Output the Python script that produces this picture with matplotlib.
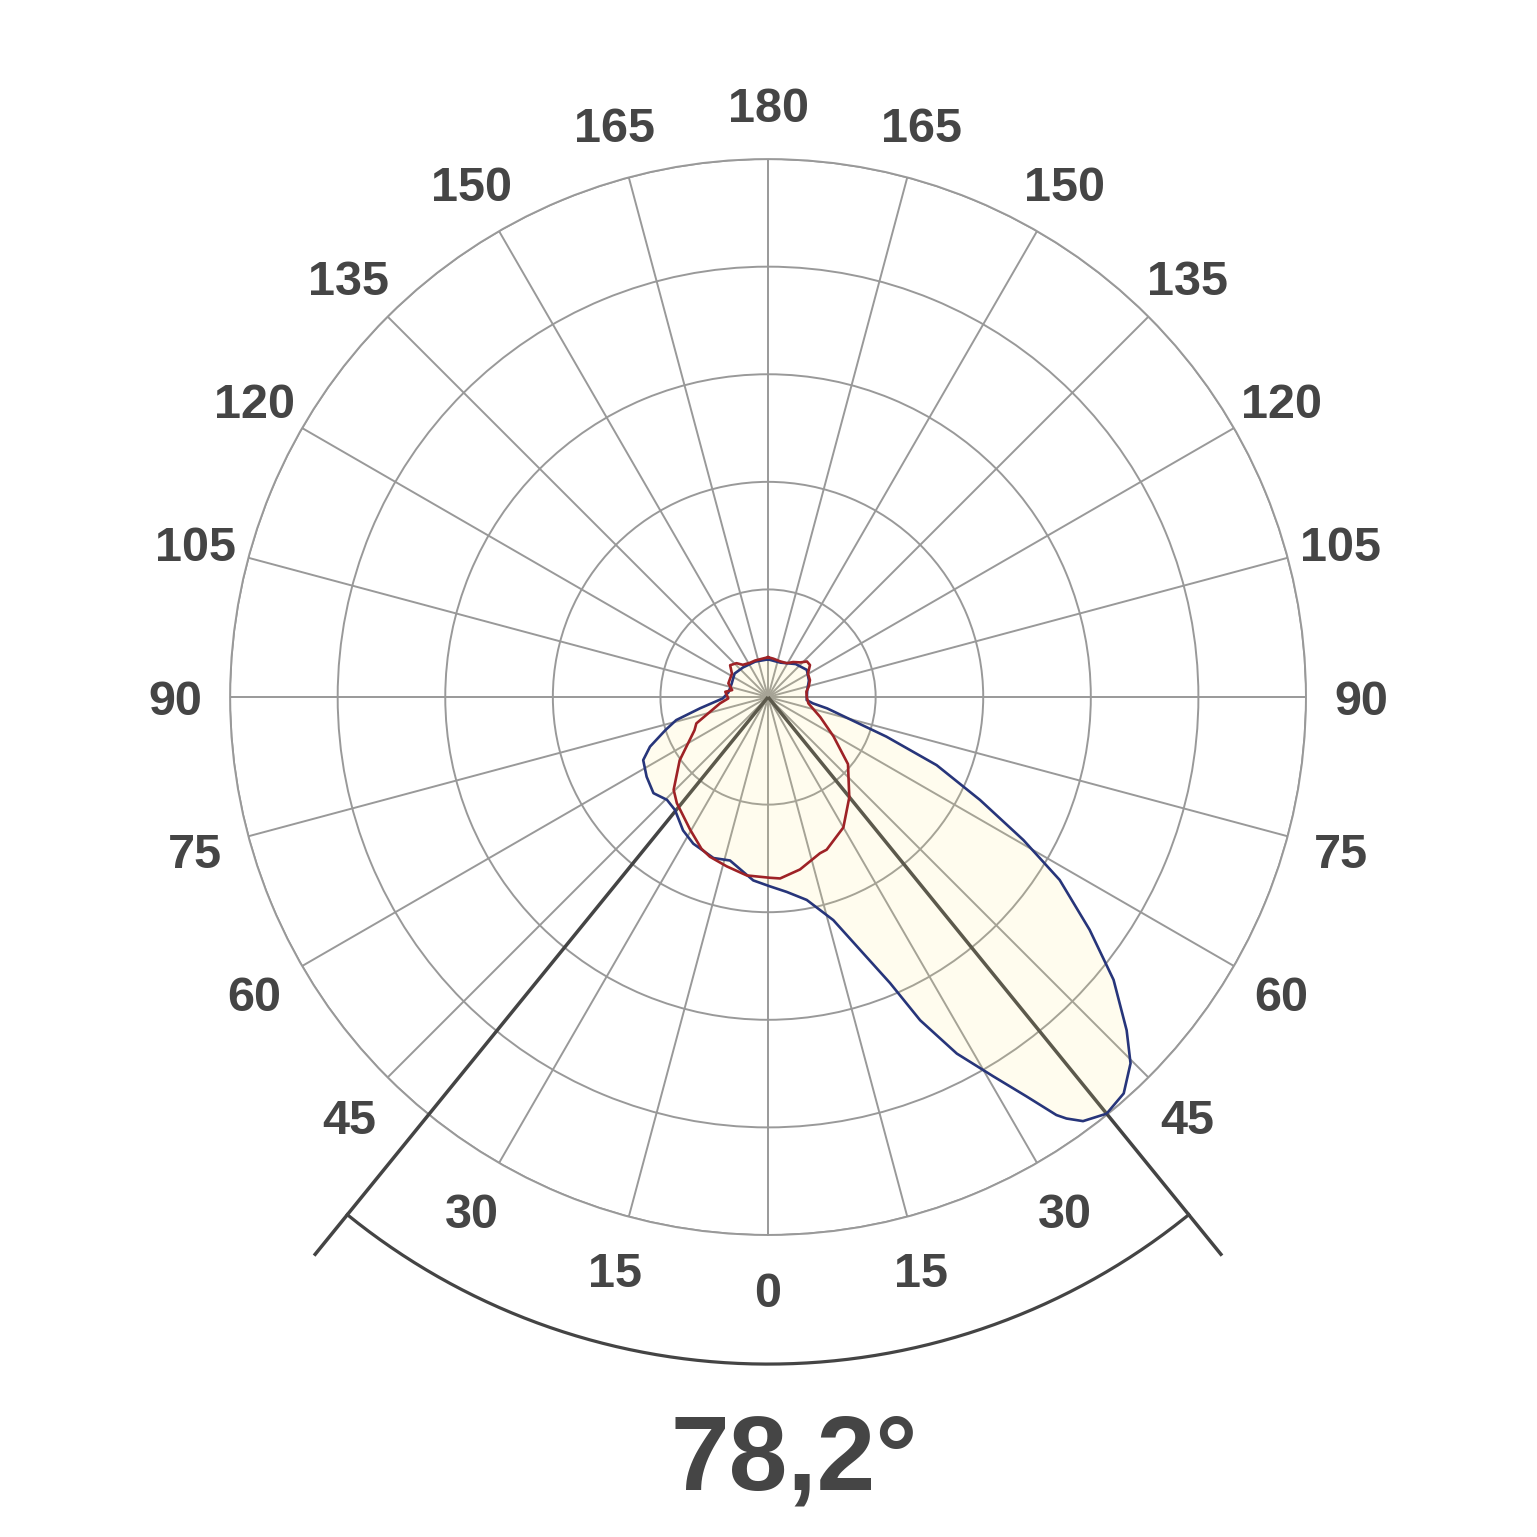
import numpy as np
import matplotlib.pyplot as plt

plt.rcParams['font.family'] = ['Liberation Sans', 'DejaVu Sans']

# luminous intensity curves, angle from nadir (deg, + = right side), value (cd/klm)
blue_deg = [-180, -160, -140, -125, -110, -97, -88.3, -80.6, -75.9, -72.2, -67.2, -63.2,
            -56.7, -50, -44.5, -39.5, -32.5, -27, -18.7, -13.1, -4.6, 0.6, 5.5, 10.8,
            16.3, 20, 23.1, 25.2, 27.9, 30.7, 32.9, 34.6, 35.3, 36.6, 39.1, 41.9, 44.7,
            47.1, 50.7, 54.1, 57.9, 60.75, 64.1, 68, 71.5, 79.1, 82, 85.6, 100, 112,
            125, 140, 160]
blue_val = [35, 35, 36, 38, 36, 37, 42, 64, 88, 100, 119, 130,
            135, 139, 134, 136, 147, 153, 158, 156, 171, 176, 182, 192,
            216, 250, 289, 332, 375, 410, 442, 472, 480, 491, 499, 495, 479,
            455, 415, 369, 320, 272, 219, 169, 116, 56, 42, 36, 37, 41,
            44, 40, 34]

red_deg = [-180, -170.8, -160.6, -152, -142, -137, -130, -123, -109, -101, -97, -88,
           -82.5, -69.8, -65.7, -54.4, -45.5, -40.7, -30.4, -23.7, -20, -13.7, -6.8,
           0.6, 3.8, 10.5, 18.4, 21, 30, 39, 50, 59, 69, 81, 90, 98, 104.3, 112,
           120.4, 127.3, 132.4, 137, 144.4, 151, 161.2, 172.2]
red_val = [37, 36, 36, 36, 38, 43, 46, 40, 39, 34, 40, 37,
           45, 71, 75, 101, 123, 130, 143, 154, 158, 162, 167,
           168, 169, 163, 153, 152, 140, 120, 97, 71, 52, 38, 36, 36, 39, 42,
           43, 49, 49, 44, 40, 36, 35, 36]

beam_angle = 78.2
tick_step = 15
r_max = 500
r_rings = [100, 200, 300, 400, 500]

grid_col = '#999999'
text_col = '#454545'


def closed(deg, val):
    d = np.array(deg, dtype=float)
    v = np.array(val, dtype=float)
    return np.radians(np.append(d, d[0] + 360)), np.append(v, v[0])


fig = plt.figure(figsize=(15.37, 15.37), dpi=100)
ax = fig.add_axes([0.1497, 0.1965, 0.70, 0.70], projection='polar')
ax.set_theta_zero_location('S')
ax.set_theta_direction(1)
ax.set_ylim(0, r_max)
ax.set_rgrids(r_rings, labels=[])
ax.set_thetagrids(np.arange(0, 360, tick_step), labels=[])
ax.grid(True, color=grid_col, lw=1.4)
ax.spines['polar'].set_color(grid_col)
ax.spines['polar'].set_linewidth(1.4)
ax.tick_params(length=0)

# beam angle lines and arc
half = np.radians(beam_angle / 2)
for s in (-1, 1):
    ax.plot([s * half, s * half], [0, 669], color='#444444', lw=2.5,
            clip_on=False, zorder=3, solid_capstyle='butt')
arc_t = np.linspace(-half, half, 200)
ax.plot(arc_t, np.full_like(arc_t, 620), color='#444444', lw=2.3, clip_on=False, zorder=3)

# filled union of both curves
bt, bv = closed(blue_deg, blue_val)
rt, rv = closed(red_deg, red_val)
tt = np.linspace(-np.pi, np.pi, 1441)
union = np.maximum(np.interp(tt, bt, bv, period=2 * np.pi),
                   np.interp(tt, rt, rv, period=2 * np.pi))
ax.fill(tt, union, color='#ffee82', alpha=0.13, lw=0, zorder=4)

ax.plot(bt, bv, color='#27357a', lw=1.9, zorder=5, solid_joinstyle='round')
ax.plot(rt, rv, color='#9e2226', lw=1.9, zorder=6, solid_joinstyle='round')

# angle labels on both sides
for a in range(0, 181, tick_step):
    sides = [a] if a in (0, 180) else [a, -a]
    for s in sides:
        ax.annotate(str(a), xy=(np.radians(s), 551), xytext=(0, -3.6),
                    textcoords='offset points', ha='center', va='center',
                    fontsize=35, fontweight='bold', color=text_col,
                    annotation_clip=False)

fig.text(0.517, 1 - 1462 / 1537, '78,2°', ha='center', va='center',
         fontsize=76, fontweight='bold', color=text_col)

fig.savefig('out.png', dpi=100, facecolor='white')
